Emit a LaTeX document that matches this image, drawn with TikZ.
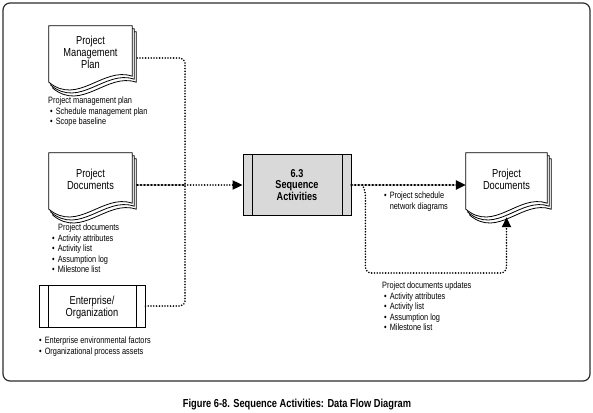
\documentclass[tikz,border=0pt]{standalone}
\usepackage{fontspec}
\setmainfont[FakeStretch=0.8]{Liberation Sans}
\usetikzlibrary{arrows.meta,calc,backgrounds}
\definecolor{procFill}{RGB}{217,217,217}
\definecolor{frameLine}{RGB}{45,45,45}
\tikzset{
    every node/.append style={align=center},
    docbox/.style={rectangle,minimum width=83pt,minimum height=64pt,inner sep=0pt,
        text depth=10.5pt,font=\fontsize{11.6}{12}\selectfont},
    sidebars/.style={path picture={
        \draw[line width=0.8pt] ($(path picture bounding box.north west)+(#1,0)$) -- ($(path picture bounding box.south west)+(#1,0)$);
        \draw[line width=0.8pt] ($(path picture bounding box.north east)+(-#1,0)$) -- ($(path picture bounding box.south east)+(-#1,0)$);}},
    srcbox/.style={rectangle,draw=black,line width=0.8pt,fill=white,minimum width=106pt,
        minimum height=42pt,sidebars=9,text depth=-2pt,font=\fontsize{11.6}{12}\selectfont},
    procbox/.style={rectangle,draw=black,line width=0.8pt,fill=procFill,minimum width=108pt,
        minimum height=61pt,sidebars=9,font=\bfseries\fontsize{11.4}{11.6}\selectfont},
    lbl/.style={align=left,anchor=north west,inner sep=0pt,font=\fontsize{9.2}{10.5}\selectfont},
    fine/.style={line width=1.8pt,dash pattern=on 0pt off 2.8pt,line cap=round},
    heavy/.style={line width=2.6pt,dash pattern=on 0.6pt off 2.9pt,line cap=round},
    arr/.style={-{Triangle[length=10pt,width=9pt]}}
}
% one sheet of a document stack, offset by (#2,#3)
\newcommand\docsheet[3]{%
    \filldraw[fill=white,draw=black,line width=0.8pt]
        ($(#1.north west)+(#2,#3)$) -- ($(#1.north east)+(#2,#3)$)
        -- ($(#1.south east)+(#2,#3-14)$)
        .. controls ($(#1.south west)!0.65!(#1.south east)+(#2,#3-24)$)
        and ($(#1.south west)!0.35!(#1.south east)+(#2,#3+16)$)
        .. ($(#1.south west)+(#2,#3-8)$) -- cycle;}
\newcommand\docstack[1]{\docsheet{#1}{4}{6}\docsheet{#1}{2}{3}\docsheet{#1}{0}{0}}

\begin{document}
\begin{tikzpicture}[x=1pt,y=-1pt]
    \useasboundingbox (0,0) rectangle (593,412);

    \node[docbox]   (pmp)   at (90.5,58)  {Project\\Management\\Plan};
    \node[docbox]   (pdin)  at (90.5,185) {Project\\Documents};
    \node[srcbox]   (ent)   at (92,306)   {Enterprise/\\Organization};
    \node[procbox]  (seq)   at (297,185)  {6.3\\Sequence\\Activities};
    \node[docbox,minimum width=81pt] (pdout) at (506.5,185) {Project\\Documents};

    \begin{scope}[on background layer]
        \draw[frameLine,line width=1.2pt,rounded corners=7pt] (3,3) rectangle (590,381);
        \docstack{pmp}
        \docstack{pdin}
        \docstack{pdout}
    \end{scope}

    \node[lbl] (pmpl)  at (48,97)   {Project management plan\\
        \hspace{2pt}\textbullet\hspace{3pt}Schedule management plan\\
        \hspace{2pt}\textbullet\hspace{3pt}Scope baseline};
    \node[lbl] (pdinl) at (52,224)  {\hspace{6pt}Project documents\\
        \textbullet\hspace{3pt}Activity attributes\\
        \textbullet\hspace{3pt}Activity list\\
        \textbullet\hspace{3pt}Assumption log\\
        \textbullet\hspace{3pt}Milestone list};
    \node[lbl] (entl)  at (39,337)  {\textbullet\hspace{3pt}Enterprise environmental factors\\
        \textbullet\hspace{3pt}Organizational process assets};
    \node[lbl] (outl)  at (384,192) {\textbullet\hspace{3pt}Project schedule\\
        \phantom{\textbullet}\hspace{3pt}network diagrams};
    \node[lbl] (updl)  at (382,282) {Project documents updates\\
        \hspace{2pt}\textbullet\hspace{3pt}Activity attributes\\
        \hspace{2pt}\textbullet\hspace{3pt}Activity list\\
        \hspace{2pt}\textbullet\hspace{3pt}Assumption log\\
        \hspace{2pt}\textbullet\hspace{3pt}Milestone list};

    \node[font=\bfseries\fontsize{11.6}{12}\selectfont] (cap) at (297,405)
        {Figure 6-8. Sequence Activities: Data Flow Diagram};

    \coordinate (jn) at (185,185);
    \coordinate (br) at ($(seq.east)+(11,0)$);
    \coordinate (lowy) at (0,273);

    \draw[fine,rounded corners=5pt] ([xshift=5pt]pmp.east) -| (jn);
    \draw[fine,rounded corners=5pt] (ent.east) -| (jn);
    \draw[heavy] ([xshift=5pt]pdin.east) -- (jn);
    \draw[fine,arr] (jn) -- (seq.west);
    \draw[heavy,arr] (seq.east) -- (pdout.west);
    \draw[fine,arr,rounded corners=6pt] (br) -- ++(3,5) |- (pdout.south |- lowy) -- (pdout.south);
\end{tikzpicture}
\end{document}
